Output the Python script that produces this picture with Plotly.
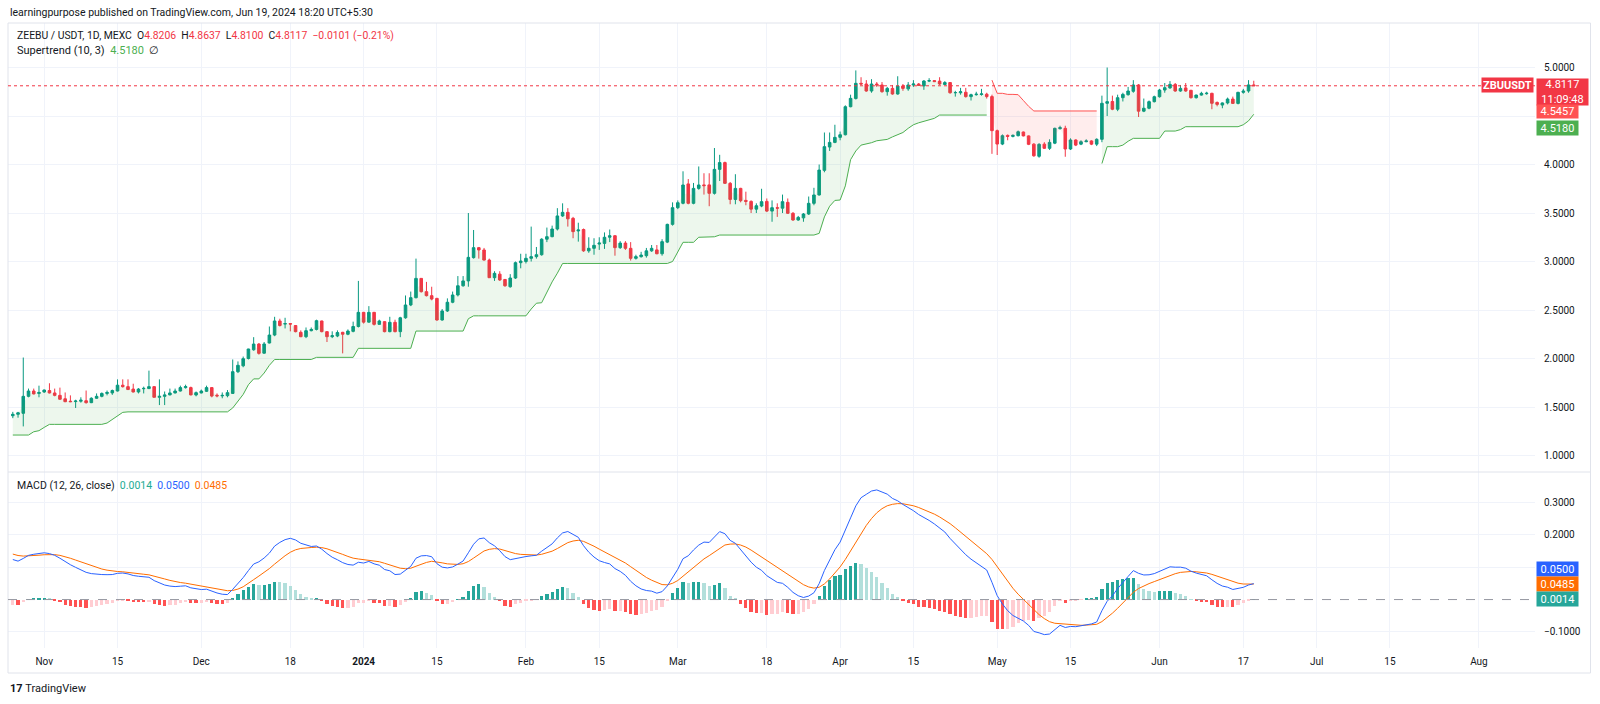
import numpy as np
import pandas as pd
import plotly.graph_objects as go

# ---------------- data ----------------
first_day = "2023-10-26"

opens = [
    1.41, 1.425, 1.435, 1.61, 1.665, 1.64,
    1.655, 1.67, 1.645, 1.62, 1.585, 1.56, 1.556, 1.56, 1.565, 1.545,
    1.59, 1.61, 1.64, 1.645, 1.665, 1.725, 1.71, 1.685, 1.655, 1.688,
    1.69, 1.71, 1.60, 1.61, 1.625, 1.645, 1.665, 1.70, 1.70, 1.624,
    1.645, 1.662, 1.70, 1.622, 1.615, 1.617, 1.64, 1.864, 1.925, 2.0,
    2.09, 2.149, 2.055, 2.16, 2.242, 2.387, 2.355, 2.36, 2.34, 2.27,
    2.225, 2.287, 2.30, 2.387, 2.277, 2.225, 2.232, 2.27, 2.25, 2.28, 2.33,
    2.476, 2.375, 2.476, 2.352, 2.38, 2.277, 2.373, 2.277, 2.42, 2.552,
    2.627, 2.826, 2.689, 2.648, 2.62, 2.397, 2.49, 2.58, 2.655, 2.75,
    2.80, 3.04, 3.143, 3.119, 3.015, 2.833, 2.87, 2.815, 2.74, 2.83, 2.988,
    3.0, 3.033, 3.05, 3.07, 3.23, 3.256, 3.335, 3.47, 3.507, 3.445,
    3.315, 3.33, 3.11, 3.136, 3.18, 3.187, 3.25, 3.266, 3.143, 3.19,
    3.136, 3.033, 3.05, 3.06, 3.11, 3.12, 3.08, 3.20, 3.383,
    3.555, 3.6, 3.8, 3.6, 3.754, 3.79, 3.79, 3.703, 3.95, 4.02,
    3.806, 3.64, 3.754, 3.63, 3.62, 3.54, 3.572, 3.62, 3.52, 3.555,
    3.55, 3.61, 3.497, 3.428, 3.45, 3.49, 3.60, 3.686, 3.94, 4.18, 4.228,
    4.28, 4.307, 4.596, 4.68, 4.837, 4.83, 4.758, 4.83, 4.82, 4.751,
    4.785, 4.727, 4.81, 4.78, 4.82, 4.83, 4.81, 4.86, 4.865, 4.86,
    4.825, 4.845, 4.74, 4.74, 4.745, 4.70, 4.72, 4.722, 4.725, 4.70,
    4.349, 4.211, 4.30, 4.29, 4.297, 4.335, 4.295, 4.21, 4.085, 4.21,
    4.167, 4.22, 4.37, 4.373, 4.16, 4.253, 4.21, 4.235, 4.243, 4.21,
    4.26, 4.631, 4.65, 4.57, 4.689, 4.72, 4.755, 4.82, 4.55, 4.58, 4.648,
    4.699, 4.768, 4.79, 4.826, 4.758, 4.79, 4.765, 4.689, 4.716, 4.73,
    4.734, 4.64, 4.613, 4.635, 4.675, 4.63, 4.744, 4.758, 4.8206,
]

highs = [
    1.45, 1.45, 2.01, 1.69, 1.69, 1.72,
    1.68, 1.745, 1.69, 1.70, 1.65, 1.62, 1.575, 1.60, 1.67, 1.60,
    1.64, 1.65, 1.67, 1.68, 1.785, 1.785, 1.785, 1.74, 1.695, 1.71,
    1.875, 1.715, 1.785, 1.66, 1.69, 1.69, 1.72, 1.73, 1.71, 1.66,
    1.68, 1.72, 1.705, 1.64, 1.65, 1.675, 1.99, 1.97, 2.02, 2.10,
    2.22, 2.16, 2.17, 2.33, 2.43, 2.41, 2.42, 2.365, 2.345, 2.29,
    2.32, 2.32, 2.40, 2.39, 2.28, 2.28, 2.29, 2.275, 2.30, 2.38, 2.80,
    2.48, 2.54, 2.48, 2.40, 2.385, 2.43, 2.40, 2.43, 2.65, 2.69,
    3.03, 2.83, 2.79, 2.74, 2.625, 2.51, 2.62, 2.69, 2.85, 2.85,
    3.50, 3.325, 3.15, 3.14, 3.03, 2.90, 2.90, 2.82, 2.87, 3.0, 3.08,
    3.08, 3.36, 3.15, 3.24, 3.35, 3.37, 3.55, 3.60, 3.55, 3.46,
    3.40, 3.34, 3.25, 3.24, 3.25, 3.30, 3.33, 3.27, 3.21, 3.21,
    3.2, 3.07, 3.1, 3.14, 3.17, 3.17, 3.23, 3.39, 3.61,
    3.63, 3.93, 3.85, 3.81, 3.98, 3.91, 3.91, 4.17, 4.10, 4.03,
    3.82, 3.90, 3.76, 3.72, 3.63, 3.60, 3.75, 3.65, 3.63, 3.60,
    3.69, 3.65, 3.51, 3.47, 3.50, 3.67, 3.76, 4.0, 4.33, 4.33, 4.41,
    4.34, 4.61, 4.72, 4.97, 4.90, 4.87, 4.88, 4.85, 4.85, 4.80,
    4.82, 4.91, 4.83, 4.85, 4.87, 4.84, 4.87, 4.89, 4.87, 4.90,
    4.86, 4.85, 4.76, 4.79, 4.79, 4.73, 4.75, 4.78, 4.74, 4.72,
    4.36, 4.31, 4.31, 4.31, 4.35, 4.34, 4.30, 4.22, 4.22, 4.23,
    4.26, 4.38, 4.40, 4.40, 4.27, 4.26, 4.25, 4.26, 4.25, 4.27,
    4.71, 5.0, 4.71, 4.72, 4.74, 4.80, 4.87, 4.83, 4.68, 4.66, 4.71,
    4.78, 4.84, 4.86, 4.84, 4.82, 4.84, 4.77, 4.72, 4.75, 4.75,
    4.74, 4.65, 4.64, 4.69, 4.70, 4.75, 4.78, 4.87, 4.8637,
]

lows = [
    1.385, 1.39, 1.30, 1.60, 1.63, 1.60,
    1.645, 1.64, 1.61, 1.575, 1.55, 1.55, 1.49, 1.545, 1.535, 1.54,
    1.585, 1.60, 1.62, 1.625, 1.66, 1.70, 1.675, 1.65, 1.64, 1.64,
    1.685, 1.60, 1.52, 1.52, 1.62, 1.64, 1.66, 1.69, 1.62, 1.61,
    1.64, 1.655, 1.60, 1.60, 1.59, 1.60, 1.635, 1.85, 1.91, 1.99,
    2.08, 2.04, 2.05, 2.155, 2.23, 2.33, 2.31, 2.28, 2.27, 2.22,
    2.21, 2.28, 2.29, 2.27, 2.17, 2.21, 2.22, 2.053, 2.24, 2.27, 2.32,
    2.36, 2.37, 2.34, 2.35, 2.27, 2.27, 2.27, 2.22, 2.41, 2.54,
    2.62, 2.68, 2.64, 2.60, 2.39, 2.39, 2.48, 2.57, 2.64, 2.74,
    2.74, 3.03, 3.03, 3.01, 2.83, 2.80, 2.80, 2.74, 2.73, 2.82, 2.93,
    2.98, 3.0, 3.03, 3.06, 3.2, 3.25, 3.32, 3.46, 3.36, 3.24,
    3.205, 3.10, 3.09, 3.07, 3.12, 3.13, 3.2, 3.06, 3.13, 3.12,
    3.01, 3.02, 3.04, 3.04, 3.10, 3.075, 3.06, 3.19, 3.37,
    3.54, 3.59, 3.59, 3.59, 3.74, 3.69, 3.57, 3.69, 3.83, 3.80,
    3.59, 3.59, 3.61, 3.58, 3.50, 3.50, 3.56, 3.51, 3.41, 3.46,
    3.50, 3.49, 3.42, 3.42, 3.41, 3.48, 3.58, 3.68, 3.92, 4.14, 4.22,
    4.25, 4.30, 4.59, 4.67, 4.82, 4.75, 4.74, 4.80, 4.74, 4.71,
    4.72, 4.72, 4.76, 4.76, 4.80, 4.81, 4.77, 4.85, 4.85, 4.82,
    4.82, 4.73, 4.70, 4.72, 4.69, 4.66, 4.71, 4.71, 4.68, 4.11,
    4.098, 4.20, 4.25, 4.28, 4.29, 4.29, 4.20, 4.08, 4.07, 4.16,
    4.15, 4.21, 4.36, 4.08, 4.15, 4.19, 4.20, 4.23, 4.20, 4.19,
    4.23, 4.50, 4.56, 4.55, 4.65, 4.71, 4.74, 4.49, 4.54, 4.57, 4.64,
    4.69, 4.74, 4.78, 4.75, 4.75, 4.75, 4.68, 4.68, 4.71, 4.72,
    4.57, 4.60, 4.58, 4.62, 4.625, 4.62, 4.73, 4.74, 4.81,
]

closes = [
    1.425, 1.44, 1.61, 1.665, 1.635, 1.65,
    1.675, 1.645, 1.62, 1.58, 1.555, 1.555, 1.562, 1.57, 1.545, 1.59,
    1.61, 1.64, 1.65, 1.67, 1.725, 1.71, 1.68, 1.655, 1.685, 1.692,
    1.71, 1.60, 1.61, 1.625, 1.645, 1.665, 1.70, 1.71, 1.625, 1.648,
    1.665, 1.70, 1.613, 1.615, 1.62, 1.648, 1.864, 1.93, 1.998, 2.098,
    2.149, 2.053, 2.15, 2.242, 2.387, 2.34, 2.36, 2.355, 2.277, 2.225,
    2.287, 2.30, 2.39, 2.277, 2.225, 2.235, 2.268, 2.25, 2.283, 2.33, 2.476,
    2.375, 2.476, 2.352, 2.387, 2.277, 2.373, 2.277, 2.42, 2.552, 2.627,
    2.826, 2.689, 2.648, 2.613, 2.397, 2.49, 2.58, 2.655, 2.75, 2.80,
    3.043, 3.143, 3.119, 3.015, 2.833, 2.878, 2.81, 2.75, 2.83, 2.988, 3.005,
    3.033, 3.05, 3.07, 3.23, 3.256, 3.335, 3.47, 3.507, 3.44, 3.308,
    3.325, 3.11, 3.136, 3.167, 3.19, 3.25, 3.266, 3.143, 3.19, 3.136,
    3.033, 3.05, 3.067, 3.11, 3.136, 3.08, 3.205, 3.383, 3.555,
    3.606, 3.789, 3.6, 3.754, 3.789, 3.782, 3.703, 3.95, 4.02, 3.806,
    3.64, 3.754, 3.627, 3.62, 3.54, 3.575, 3.617, 3.52, 3.555, 3.55,
    3.617, 3.497, 3.428, 3.455, 3.49, 3.60, 3.686, 3.943, 4.184, 4.228, 4.28,
    4.307, 4.596, 4.682, 4.837, 4.83, 4.758, 4.83, 4.82, 4.751, 4.785,
    4.727, 4.81, 4.785, 4.82, 4.83, 4.815, 4.861, 4.865, 4.855, 4.83,
    4.845, 4.74, 4.742, 4.75, 4.70, 4.72, 4.725, 4.728, 4.70, 4.349,
    4.211, 4.297, 4.29, 4.30, 4.338, 4.295, 4.208, 4.09, 4.208, 4.167,
    4.228, 4.373, 4.38, 4.16, 4.253, 4.20, 4.235, 4.243, 4.21, 4.26,
    4.631, 4.648, 4.57, 4.689, 4.723, 4.758, 4.82, 4.55, 4.58, 4.648, 4.699,
    4.768, 4.792, 4.826, 4.758, 4.785, 4.758, 4.689, 4.716, 4.734, 4.735,
    4.631, 4.62, 4.635, 4.675, 4.63, 4.744, 4.758, 4.8206, 4.8117,
]

# Supertrend (10, 3) level, one value per day
supertrend = (
    [1.211] * 4 + [1.245, 1.256, 1.29] + [1.321] * 11
    + [1.335, 1.37, 1.41, 1.445] + [1.45] * 20
    + [1.49, 1.56, 1.63, 1.73, 1.79, 1.79, 1.85, 1.93] + [1.99] * 8
    + [2.012] * 8 + [2.105] * 11 + [2.283] * 10 + [2.41] + [2.44] * 11
    + [2.51, 2.57, 2.575, 2.69, 2.79, 2.88] + [2.98] * 21
    + [3.0, 3.10] + [3.198] * 3 + [3.25] * 3 + [3.255] + [3.273] * 19
    + [3.29, 3.46, 3.57, 3.63, 3.634, 3.78, 4.05, 4.14, 4.20, 4.21, 4.225,
       4.245, 4.25, 4.259, 4.285, 4.31, 4.33, 4.373, 4.41, 4.43, 4.446,
       4.46, 4.476] + [4.51] * 10
    + [4.87, 4.734, 4.734, 4.723, 4.723, 4.72, 4.66, 4.60] + [4.552] * 13
    + [4.01] + [4.184] * 3 + [4.20, 4.24] + [4.27] * 6 + [4.345] * 3
    + [4.36] + [4.39] * 11 + [4.41, 4.45, 4.518]
)
supertrend_dir = [1] * 187 + [-1] * 21 + [1] * 30   # 1 = up (green), -1 = down (red)

# MACD (12, 26, close) with the EMA states at the left edge
macd_fast, macd_slow, macd_sig = 12, 26, 9
ema_fast_start, ema_slow_start, signal_start = 1.38, 1.25, 0.145

tick_dates = ["2023-11-01", "2023-11-15", "2023-12-01", "2023-12-18", "2024-01-01",
              "2024-01-15", "2024-02-01", "2024-02-15", "2024-03-01", "2024-03-18",
              "2024-04-01", "2024-04-15", "2024-05-01", "2024-05-15", "2024-06-01",
              "2024-06-17", "2024-07-01", "2024-07-15", "2024-08-01"]
tick_labels = ["Nov", "15", "Dec", "18", "<b>2024</b>", "15", "Feb", "15", "Mar", "18",
               "Apr", "15", "May", "15", "Jun", "17", "Jul", "15", "Aug"]
price_ticks = [1.0, 1.5, 2.0, 2.5, 3.0, 3.5, 4.0, 4.5, 5.0]
price_labels = ["1.0000", "1.5000", "2.0000", "2.5000", "3.0000", "3.5000", "4.0000", "", "5.0000"]
macd_ticks = [-0.1, 0.1, 0.2, 0.3]
macd_labels = ["\u22120.1000", "", "0.2000", "0.3000"]

last_price = 4.8117

# ---------------- derived ----------------
n = len(closes)
assert len(opens) == len(highs) == len(lows) == n == len(supertrend) == len(supertrend_dir)
dates = pd.date_range(first_day, periods=n, freq="D")
o = np.array(opens); c = np.array(closes)
body_mid = (o + c) / 2


def ema(vals, span, start):
    a = 2.0 / (span + 1)
    out, prev = [], start
    for v in vals:
        prev = a * v + (1 - a) * prev
        out.append(prev)
    return np.array(out)


macd = ema(closes, macd_fast, ema_fast_start) - ema(closes, macd_slow, ema_slow_start)
signal = ema(macd, macd_sig, signal_start)
hist = macd - signal
hist_colors = []
for i, h in enumerate(hist):
    p = hist[i - 1] if i > 0 else h
    if h >= 0:
        hist_colors.append("#26A69A" if h >= p else "#B2DFDB")
    else:
        hist_colors.append("#FFCDD2" if h >= p else "#FF5252")

UP, DN = "#089981", "#F23645"
ST_UP, ST_DN = "#4CAF50", "#FF5252"

# layout geometry (pixels)
W, H = 1600, 704
ML, MR, MT, MB = 8, 65, 23, 56
PW, PH = W - ML - MR, H - MT - MB
PANE_SPLIT_PX = 472


def px_x(px):
    return (px - ML) / PW


def px_y(py):
    return (H - MB - py) / PH


split = px_y(PANE_SPLIT_PX)

fig = go.Figure()

# supertrend fills + lines
runs = []
s = 0
for i in range(1, n + 1):
    if i == n or supertrend_dir[i] != supertrend_dir[s]:
        runs.append((s, i, supertrend_dir[s]))
        s = i
for s, e, d in runs:
    col = ST_UP if d == 1 else ST_DN
    fcol = "rgba(76,175,80,0.10)" if d == 1 else "rgba(255,82,82,0.10)"
    fig.add_trace(go.Scatter(x=dates[s:e], y=body_mid[s:e], mode="lines",
                             line=dict(width=0, color=col), hoverinfo="skip",
                             showlegend=False, xaxis="x", yaxis="y"))
    fig.add_trace(go.Scatter(x=dates[s:e], y=supertrend[s:e], mode="lines",
                             line=dict(width=1, color=col), fill="tonexty",
                             fillcolor=fcol, hoverinfo="skip", showlegend=False,
                             xaxis="x", yaxis="y"))

fig.add_trace(go.Candlestick(
    x=dates, open=opens, high=highs, low=lows, close=closes,
    increasing=dict(line=dict(color=UP, width=1), fillcolor=UP),
    decreasing=dict(line=dict(color=DN, width=1), fillcolor=DN),
    whiskerwidth=0, showlegend=False, hoverinfo="skip", xaxis="x", yaxis="y"))

# MACD pane
fig.add_trace(go.Bar(x=dates, y=hist, marker=dict(color=hist_colors, line=dict(width=0)),
                     width=0.62 * 86400000, showlegend=False, hoverinfo="skip",
                     xaxis="x", yaxis="y2"))
fig.add_trace(go.Scatter(x=dates, y=signal, mode="lines", line=dict(color="#FF6D00", width=1),
                         showlegend=False, hoverinfo="skip", xaxis="x", yaxis="y2"))
fig.add_trace(go.Scatter(x=dates, y=macd, mode="lines", line=dict(color="#2962FF", width=1),
                         showlegend=False, hoverinfo="skip", xaxis="x", yaxis="y2"))

GRID = "#f0f3fa"
FONT = "Roboto, Arial, sans-serif"
fig.update_layout(
    width=W, height=H, margin=dict(l=ML, r=MR, t=MT, b=MB),
    paper_bgcolor="white", plot_bgcolor="white", showlegend=False,
    font=dict(family=FONT, size=10, color="#131722"),
    boxgap=0.3, bargap=0,
    xaxis=dict(type="date", range=["2023-10-25 02:00", "2024-08-11 17:00"],
               tickvals=tick_dates, ticktext=tick_labels, showgrid=True, gridcolor=GRID,
               zeroline=False, showline=False, anchor="y2", ticks="",
               ticklabelstandoff=6, rangeslider=dict(visible=False),
               tickfont=dict(size=10, color="#131722")),
    yaxis=dict(domain=[split, 1], range=[0.830, 5.459], side="right", anchor="x",
               tickvals=price_ticks, ticktext=price_labels,
               showgrid=True, gridcolor=GRID, zeroline=False, showline=False, ticks="",
               ticklabelstandoff=8, tickfont=dict(size=10, color="#131722")),
    yaxis2=dict(domain=[0, split], range=[-0.150, 0.395], side="right", anchor="x",
                tickvals=macd_ticks, ticktext=macd_labels,
                showgrid=True, gridcolor=GRID, zeroline=False, showline=False, ticks="",
                ticklabelstandoff=8, tickfont=dict(size=10, color="#131722")),
)

shapes = [
    dict(type="rect", xref="paper", yref="paper", x0=px_x(8), x1=px_x(1590.5),
         y0=px_y(673), y1=px_y(23), line=dict(color="#e0e3eb", width=1)),
    dict(type="line", xref="paper", yref="paper", x0=px_x(8), x1=px_x(1590.5),
         y0=split, y1=split, line=dict(color="#e0e3eb", width=1)),
    dict(type="line", xref="paper", yref="y", x0=0, x1=1, y0=last_price, y1=last_price,
         line=dict(color=DN, width=1, dash="dot")),
    dict(type="line", xref="paper", yref="y2", x0=0, x1=1, y0=0, y1=0,
         line=dict(color="#9598a1", width=1, dash="dash")),
]
fig.update_layout(shapes=shapes)

ann = []


def text_ann(txt, px, py, size=11, color="#131722"):
    ann.append(dict(text=txt, xref="paper", yref="paper", x=px_x(px), y=px_y(py),
                    xanchor="left", yanchor="middle", showarrow=False,
                    font=dict(size=size, color=color, family=FONT)))


def badge(txt, px, py, bg, w, h, xanchor="left", size=11):
    ann.append(dict(text=txt, xref="paper", yref="paper", x=px_x(px), y=px_y(py),
                    xanchor=xanchor, yanchor="middle", showarrow=False, bgcolor=bg,
                    width=w, height=h, borderpad=1, align="center",
                    font=dict(size=size, color="white", family=FONT)))


NB = "\u00a0"
red = lambda t: f"<span style='color:{DN}'>{t}</span>"
text_ann("learningpurpose published on TradingView.com, Jun 19, 2024 18:20 UTC+5:30", 8, 12.5, 10.5, "#131722")
text_ann("ZEEBU / USDT, 1D, MEXC" + NB * 2 + "O" + red("4.8206") + NB * 2 + "H" + red("4.8637")
         + NB * 2 + "L" + red("4.8100") + NB * 2 + "C" + red("4.8117") + NB * 2
         + red("\u22120.0101 (\u22120.21%)"), 15, 35.5, 10.4)
text_ann("Supertrend (10, 3)" + NB * 2 + f"<span style='color:{ST_UP}'>4.5180</span>" + NB * 2 + "\u2205",
         15, 50.5, 11)
text_ann("MACD (12, 26, close)" + NB * 2 + "<span style='color:#22AB94'>0.0014</span>" + NB * 2
         + "<span style='color:#2962FF'>0.0500</span>" + NB * 2
         + "<span style='color:#FF6D00'>0.0485</span>", 15, 485, 10.5)
text_ann("<b>17</b>" + NB + "TradingView", 8, 688, 11)

badge("<b>ZBUUSDT</b>", 1534, 85.5, DN, 49, 12, xanchor="right")
badge("4.8117<br>11:09:48", 1536, 92, DN, 49, 24)
badge("4.5457", 1536, 112, "#FF5252", 39, 11)
badge("4.5180", 1536, 127.5, ST_UP, 39, 12)
badge("0.0500", 1536, 568.5, "#2962FF", 39, 12)
badge("0.0485", 1536, 583.5, "#FF6D00", 39, 12)
badge("0.0014", 1536, 599, "#26A69A", 39, 12)
fig.update_layout(annotations=ann)

fig.write_html("out.html", config={"displayModeBar": False},
               post_script="document.body.style.margin='0';document.body.style.overflow='hidden';")
